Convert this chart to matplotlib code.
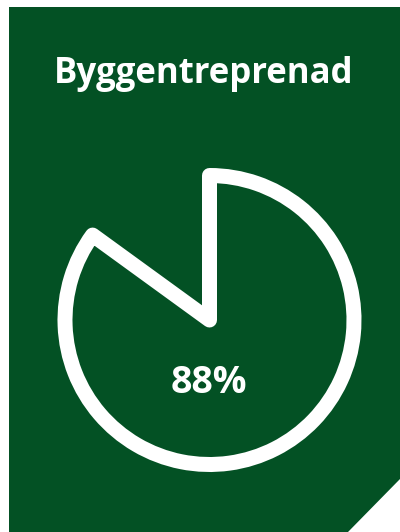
import matplotlib
matplotlib.use("Agg")
import matplotlib.pyplot as plt
from matplotlib.patches import Polygon

title = "Byggentreprenad"
label_value = 88
pie_values = [85, 15]

W, H = 400, 532
fig = plt.figure(figsize=(W / 100, H / 100), dpi=100)
fig.patch.set_facecolor("white")

bg = fig.add_axes([0, 0, 1, 1])
bg.set_xlim(0, W)
bg.set_ylim(H, 0)
bg.axis("off")
green = "#035124"
bg.add_patch(Polygon([(9, 7), (400, 7), (400, 479), (348, 532), (9, 532)],
                     closed=True, facecolor=green, edgecolor="none"))

bg.text(203.5, 83.5, title, color="white", fontsize=25, fontweight="bold",
        family="Open Sans", ha="center", va="baseline")
bg.text(209, 393, f"{label_value}%", color="white", fontsize=27, fontweight="bold",
        family="Open Sans", ha="center", va="baseline")

cx, cy, r = 209.5, 320, 144.5
ax = fig.add_axes([(cx - r) / W, (H - cy - r) / H, 2 * r / W, 2 * r / H])
ax.axis("off")
wedges, _ = ax.pie(pie_values, startangle=90, counterclock=False, radius=1,
                   wedgeprops=dict(linewidth=10.8))
wedges[0].set_facecolor("none")
wedges[0].set_edgecolor("white")
wedges[0].set_joinstyle("round")
wedges[0].set_clip_on(False)
wedges[1].set_visible(False)
ax.set_xlim(-1, 1)
ax.set_ylim(-1, 1)
ax.set_aspect("equal")

fig.savefig("out.png", dpi=100, facecolor="white")
